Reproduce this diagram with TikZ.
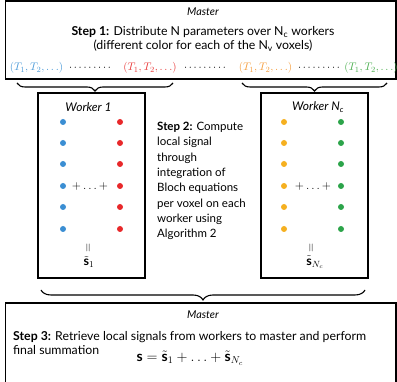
\documentclass[tikz,border=0pt]{standalone}
\usepackage{fontspec}
\setmainfont{Lato}
\usetikzlibrary{decorations.pathreplacing}
\definecolor{cblue}{HTML}{3B8ED3}
\definecolor{cred}{HTML}{E8282A}
\definecolor{corange}{HTML}{F5B020}
\definecolor{cgreen}{HTML}{2CA44A}
\definecolor{tblue}{HTML}{4A9AD8}
\definecolor{tred}{HTML}{E83A3A}
\definecolor{torange}{HTML}{F59D3D}
\definecolor{tgreen}{HTML}{4CAF50}
\tikzset{
  box/.style={draw=black, line width=1.1pt},
  brc/.style={decorate, decoration={brace, mirror, amplitude=8pt}, line width=1.1pt},
  bigbrc/.style={decorate, decoration={brace, mirror, amplitude=10pt}, line width=1.1pt},
  dotnode/.style={circle, inner sep=0pt, minimum size=6pt},
  txt/.style={inner sep=0pt},
  bigtxt/.style={inner sep=0pt, font=\fontsize{12.3}{14}\selectfont},
  midtxt/.style={inner sep=0pt, font=\fontsize{11.5}{15.3}\selectfont},
  wtxt/.style={inner sep=0pt, font=\fontsize{12}{14}\selectfont\itshape},
  mtxt/.style={inner sep=0pt, font=\fontsize{10.8}{13}\selectfont\itshape},
}
\begin{document}
\begin{tikzpicture}[x=1pt,y=-1pt, font=\fontsize{11}{13}\selectfont]
\useasboundingbox (0,0) rectangle (397,382);
% top master
\draw[box] (5.5,1) rectangle (396,79);
\node[mtxt] (m1) at (203,12) {Master};
\node[bigtxt, align=center] (s1) at (203,39) {\textbf{Step 1:} Distribute N parameters over N\textsubscript{c} workers\\(different color for each of the N\textsubscript{v} voxels)};
\node[txt, text=tblue] (t1) at (36.5,68) {$(T_1,T_2,\ldots)$};
\node[txt] (d1) at (90,68) {$\cdots\cdots\cdots$};
\node[txt, text=tred] (t2) at (150,68) {$(T_1,T_2,\ldots)$};
\node[txt] (d2) at (205,68) {$\cdots\cdots\cdots$};
\node[txt, text=torange] (t3) at (265.5,68) {$(T_1,T_2,\ldots)$};
\node[txt] (d3) at (319,68) {$\cdots\cdots\cdots$};
\node[txt, text=tgreen] (t4) at (371,68) {$(T_1,T_2,\ldots)$};
% braces top
\coordinate (b1a) at (17,83);
\coordinate (b1b) at (173,83);
\coordinate (b2a) at (242,83);
\coordinate (b2b) at (387,83);
\draw[brc] (b1a) -- (b1b);
\draw[brc] (b2a) -- (b2b);
% workers
\draw[box] (38,93) rectangle (145,278);
\draw[box] (261,93) rectangle (368,278);
\node[wtxt] (w1) at (88.5,107) {Worker 1};
\node[wtxt] (w2) at (318,107) {Worker N\textsubscript{c}};
\foreach \i/\y in {1/122,2/143,3/164,4/186,5/207,6/229}{
  \node[dotnode, fill=cblue] (a\i) at (63,\y) {};
  \node[dotnode, fill=cred] (b\i) at (120,\y) {};
  \node[dotnode, fill=corange] (c\i) at (284,\y) {};
  \node[dotnode, fill=cgreen] (e\i) at (341,\y) {};
}
\node[txt, font=\fontsize{12.5}{14}\selectfont] (p1) at (90,187) {$+\ldots+$};
\node[txt, font=\fontsize{12.5}{14}\selectfont] (p2) at (313,187) {$+\ldots+$};
\node[txt, font=\fontsize{12}{14}\selectfont] (eq1) at (89,248) {\rotatebox{90}{$=$}};
\node[txt, font=\fontsize{12}{14}\selectfont] (eq2) at (312,248) {\rotatebox{90}{$=$}};
\node[txt, font=\fontsize{12.5}{14}\selectfont] (sv1) at (89,262) {$\tilde{\mathbf{s}}_1$};
\node[txt, font=\fontsize{12.5}{14}\selectfont] (sv2) at (315,262) {$\tilde{\mathbf{s}}_{N_c}$};
% step 2
\node[midtxt, align=left, anchor=north west] (s2) at (157,122) {\textbf{Step 2:} Compute\\local signal\\through\\integration of\\Bloch equations\\per voxel on each\\worker using\\Algorithm 2};
% big brace
\coordinate (bga) at (41,290);
\coordinate (bgb) at (365,290);
\draw[bigbrc] (bga) -- (bgb);
% bottom master
\draw[box] (5.5,303) rectangle (396,384);
\node[mtxt] (m2) at (203,315) {Master};
\node[bigtxt, align=left, anchor=north west] (s3) at (13,331) {\textbf{Step 3:} Retrieve local signals from workers to master and perform\\final summation};
\node[txt, font=\fontsize{14}{16}\selectfont] (f3) at (190,358) {$\mathbf{s}=\tilde{\mathbf{s}}_1+\ldots+\tilde{\mathbf{s}}_{N_c}$};
\end{tikzpicture}
\end{document}
